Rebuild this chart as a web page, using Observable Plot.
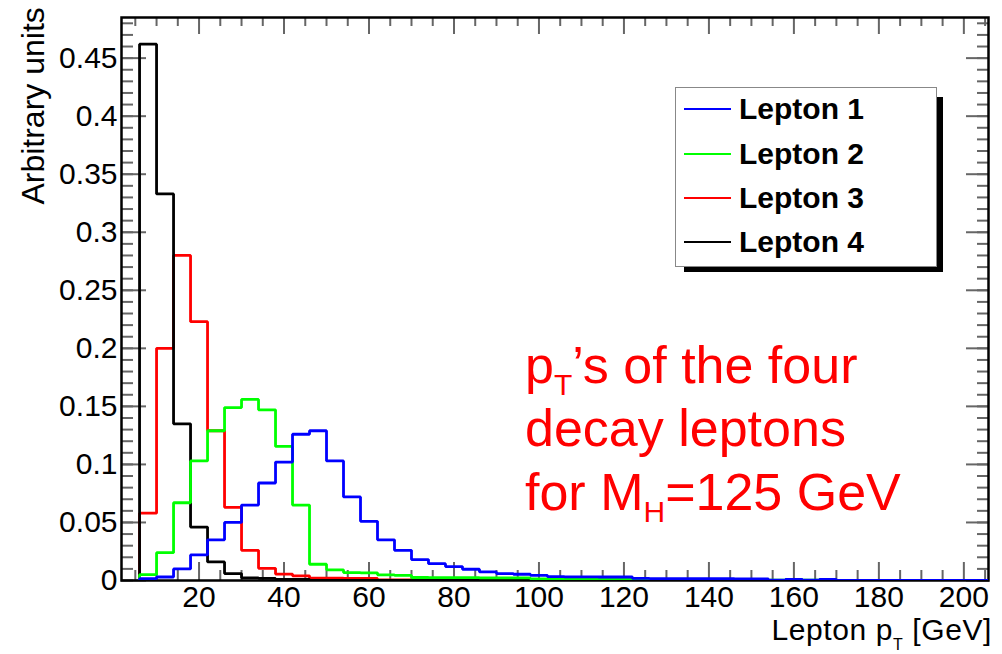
<!DOCTYPE html>
<html>
<head>
<meta charset="utf-8">
<script src="https://cdn.jsdelivr.net/npm/d3@7"></script>
<script src="https://cdn.jsdelivr.net/npm/@observablehq/plot@0.6"></script>
<style>
  html, body { margin: 0; padding: 0; background: #fff; }
  #chart { position: relative; width: 1002px; height: 654px; overflow: hidden;
           font-family: "Liberation Sans", Arial, Helvetica, sans-serif; color: #000; }
  #chart > svg { position: absolute; left: 0; top: 0; }
  .overlay { position: absolute; white-space: nowrap; }
  .xtitle { right: 10px; top: 614.6px; font-size: 30px; line-height: 30px; letter-spacing: 0.6px; }
  .sub { position: relative; line-height: 0; }
  .note { left: 525px; top: 334px; font-size: 52px; line-height: 63.3px; color: #ff0000; }
  .legend-shadow { position: absolute; left: 684px; top: 97px; width: 259px; height: 175px; background: #000; }
  .legend { position: absolute; left: 675px; top: 87px; width: 262px; height: 180px; background: #fff;
            border: 1.5px solid #888; box-sizing: border-box; }
  .legend .swatch { position: absolute; left: 7.5px; width: 47px; height: 0; border-top: 2.5px solid; }
  .legend .label { position: absolute; left: 63px; font-size: 30px; line-height: 30px; font-weight: bold; white-space: nowrap; }
</style>
</head>
<body>
<div id="chart"></div>
<script>
// Histogram bin edges in GeV (4 GeV bins)
const binEdges = [6, 10, 14, 18, 22, 26, 30, 34, 38, 42, 46, 50, 54, 58, 62, 66, 70, 74, 78, 82,
  86, 90, 94, 98, 102, 106, 110, 114, 118, 122, 126, 130, 134, 138, 142, 146, 150, 154, 158, 162,
  166, 170, 174, 178, 182, 186, 190, 194, 198, 202, 206];

// Normalised pT distributions, one value per bin
const lepton1 = [0.0015, 0.003, 0.010, 0.022, 0.035, 0.050, 0.065, 0.084, 0.102, 0.126,
  0.129, 0.103, 0.072, 0.051, 0.035, 0.026, 0.018, 0.0145, 0.012, 0.0097,
  0.0074, 0.006, 0.0054, 0.0045, 0.0033, 0.0032, 0.0031, 0.003, 0.003, 0.0018,
  0.0017, 0.0016, 0.0016, 0.0015, 0.0015, 0.0014, 0.0014, 0.0003, 0.0009, 0.0003,
  0.0009, 0, 0, 0, 0, 0, 0, 0, 0, 0];
const lepton2 = [0.005, 0.024, 0.067, 0.103, 0.129, 0.149, 0.156, 0.147, 0.1155, 0.065,
  0.014, 0.0092, 0.0068, 0.0066, 0.0049, 0.0045, 0.0026, 0.0025, 0.0025, 0.0024,
  0.0023, 0.0022, 0.0022, 0.0013, 0.0013, 0.0013, 0.0013, 0.0013, 0.0013, 0.0008,
  0.0008, 0.0008, 0.0008, 0.0008, 0.0008, 0.0008, 0.0008, 0.0004, 0.0008, 0.0004,
  0.0008, 0, 0, 0, 0, 0, 0, 0, 0, 0];
const lepton3 = [0.058, 0.200, 0.280, 0.223, 0.129, 0.063, 0.026, 0.0105, 0.0055, 0.004,
  0.002, 0.002, 0.0018, 0.0018, 0.0006, 0.0006, 0.0006, 0.0006, 0.0006, 0.0006,
  0.0006, 0.0006, 0.0006, 0, 0, 0, 0, 0, 0, 0,
  0, 0, 0, 0, 0, 0, 0, 0, 0, 0,
  0, 0, 0, 0, 0, 0, 0, 0, 0, 0];
const lepton4 = [0.462, 0.333, 0.135, 0.046, 0.016, 0.006, 0.0022, 0.0018, 0.001, 0.001,
  0, 0, 0, 0, 0, 0, 0, 0, 0, 0,
  0, 0, 0, 0, 0, 0, 0, 0, 0, 0,
  0, 0, 0, 0, 0, 0, 0, 0, 0, 0,
  0, 0, 0, 0, 0, 0, 0, 0, 0, 0];

const seriesNames = ["Lepton 1", "Lepton 2", "Lepton 3", "Lepton 4"];
const seriesColors = ["#0000ff", "#00ff00", "#ff0000", "#000000"];
const seriesValues = [lepton1, lepton2, lepton3, lepton4];

// Axis ticks
const xMajorTicks = [20, 40, 60, 80, 100, 120, 140, 160, 180, 200];
const xMinorTicks = [5, 10, 15, 25, 30, 35, 45, 50, 55, 65, 70, 75, 85, 90, 95, 105, 110, 115,
  125, 130, 135, 145, 150, 155, 165, 170, 175, 185, 190, 195, 205];
const yMajorTicks = [0, 0.05, 0.1, 0.15, 0.2, 0.25, 0.3, 0.35, 0.4, 0.45];
const yMinorTicks = d3.range(0, 49).map(i => i / 100);

const yTitle = "Arbitrary units";
const xTitleParts = [["Lepton p", false], ["T", true], [" [GeV]", false]];
const noteLines = [
  [["p", false], ["T", true], ["\u2019s of the four", false]],
  [["decay leptons", false]],
  [["for M", false], ["H", true], ["=125 GeV", false]]
];

// Step outline for one histogram: rises from zero at the first edge
function histPoints(values, name) {
  const pts = [{x: binEdges[0], y: 0, series: name}];
  values.forEach((v, i) => pts.push({x: binEdges[i], y: v, series: name}));
  pts.push({x: binEdges[values.length], y: values[values.length - 1], series: name});
  return pts;
}

const tickStyle = {stroke: "#666", strokeWidth: 2, label: null, tickFormat: () => ""};
const drawOrder = [2, 3, 1, 0]; // red, black, green, blue (blue on top)

const plot = Plot.plot({
  width: 1002,
  height: 654,
  marginLeft: 121,
  marginRight: 14,
  marginTop: 17,
  marginBottom: 74,
  style: {fontFamily: "'Liberation Sans', Arial, Helvetica, sans-serif", fontSize: "30px", color: "#000", background: "transparent"},
  x: {domain: [1.75, 205.8]},
  y: {domain: [0, 0.485]},
  marks: [
    // inward ticks on all four sides
    Plot.axisX(xMinorTicks, {anchor: "bottom", tickSize: -10, ...tickStyle}),
    Plot.axisX(xMajorTicks, {anchor: "bottom", tickSize: -18, ...tickStyle}),
    Plot.axisX(xMinorTicks, {anchor: "top", tickSize: -8, ...tickStyle}),
    Plot.axisX(xMajorTicks, {anchor: "top", tickSize: -16, ...tickStyle}),
    Plot.axisY(yMinorTicks, {anchor: "left", tickSize: -12, ...tickStyle}),
    Plot.axisY(yMajorTicks, {anchor: "left", tickSize: -25, ...tickStyle}),
    Plot.axisY(yMinorTicks, {anchor: "right", tickSize: -12, ...tickStyle}),
    Plot.axisY(yMajorTicks, {anchor: "right", tickSize: -23, ...tickStyle}),
    // tick labels
    Plot.axisX(xMajorTicks, {anchor: "bottom", tickSize: 0, tickPadding: 5, label: null, fontSize: 30, tickFormat: d => String(d)}),
    Plot.axisY(yMajorTicks, {anchor: "left", tickSize: 0, tickPadding: 4, label: null, fontSize: 30, tickFormat: d3.format("~g")}),
    Plot.frame({stroke: "#000", strokeWidth: 2.5}),
    // histograms
    ...drawOrder.map(k => Plot.line(histPoints(seriesValues[k], seriesNames[k]), {
      x: "x", y: "y", curve: "step-after", stroke: seriesColors[k], strokeWidth: 2.8,
      strokeLinejoin: "miter", strokeLinecap: "butt", clip: true
    })),
    // y-axis title, rotated and aligned to the top
    Plot.text([yTitle], {
      frameAnchor: "top-left", text: d => d, rotate: -90, textAnchor: "end", lineAnchor: "bottom",
      dx: -77.7, dy: -10.3, fontSize: 32, fill: "#000"
    })
  ]
});

const chart = document.getElementById("chart");
chart.appendChild(plot);

function richText(parent, parts, subSize, subShift) {
  parts.forEach(([t, sub]) => {
    const span = document.createElement("span");
    span.textContent = t;
    if (sub) {
      span.className = "sub";
      span.style.fontSize = subSize + "px";
      span.style.top = subShift + "px";
    }
    parent.appendChild(span);
  });
}

// x-axis title
const xt = document.createElement("div");
xt.className = "overlay xtitle";
richText(xt, xTitleParts, 16, 10);
chart.appendChild(xt);

// red annotation
const note = document.createElement("div");
note.className = "overlay note";
noteLines.forEach(line => {
  const row = document.createElement("div");
  richText(row, line, 30, 12);
  note.appendChild(row);
});
chart.appendChild(note);

// legend box with drop shadow
const shadow = document.createElement("div");
shadow.className = "legend-shadow";
chart.appendChild(shadow);
const legend = document.createElement("div");
legend.className = "legend";
seriesNames.forEach((name, i) => {
  const sw = document.createElement("div");
  sw.className = "swatch";
  sw.style.borderTopColor = seriesColors[i];
  sw.style.top = (20.2 + 44.4 * i) + "px";
  legend.appendChild(sw);
  const lb = document.createElement("div");
  lb.className = "label";
  lb.textContent = name;
  lb.style.top = (6.1 + 44.4 * i) + "px";
  legend.appendChild(lb);
});
chart.appendChild(legend);
</script>
</body>
</html>
